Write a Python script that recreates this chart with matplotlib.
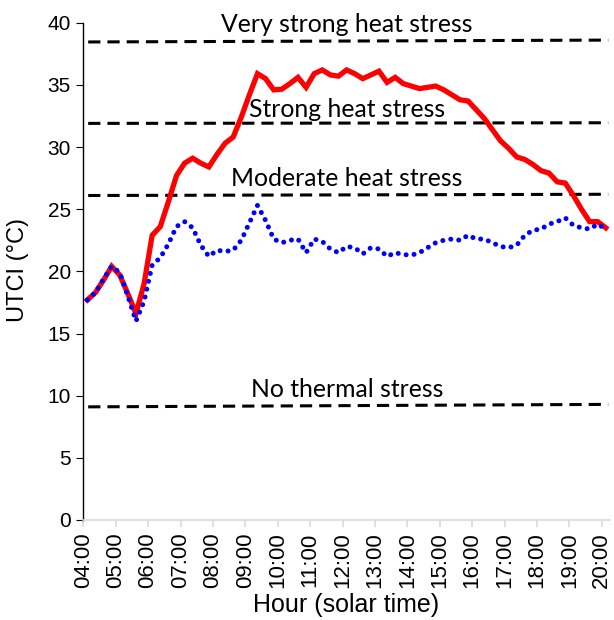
import numpy as np
import matplotlib
matplotlib.use('Agg')
import matplotlib.pyplot as plt

# UTCI, 15-min values (centred in each quarter hour), 04:00 - 20:00
red_utci = [17.7, 18.3, 19.3, 20.4, 19.7, 18.2, 16.6, 19.0, 22.9, 23.6,
            25.6, 27.7, 28.7, 29.1, 28.7, 28.4, 29.4, 30.3, 30.8, 32.4,
            34.2, 35.9, 35.5, 34.6, 34.65, 35.1, 35.6, 34.8, 35.9, 36.2,
            35.8, 35.7, 36.2, 35.9, 35.5, 35.8, 36.1, 35.2, 35.6, 35.1,
            34.9, 34.7, 34.8, 34.9, 34.6, 34.2, 33.8, 33.7, 33.0, 32.3,
            31.4, 30.5, 29.9, 29.2, 29.0, 28.6, 28.1, 27.9, 27.2, 27.1,
            26.1, 25.0, 24.0, 24.0, 23.5]
blue_utci = [17.7, 18.3, 19.4, 20.4, 19.9, 18.0, 16.0, 17.6, 20.5, 21.1,
             22.2, 23.6, 24.0, 23.5, 22.1, 21.2, 21.7, 21.6, 21.7, 22.5,
             23.9, 25.3, 24.1, 22.6, 22.3, 22.5, 22.6, 21.5, 22.6, 22.4,
             21.8, 21.5, 22.0, 21.9, 21.4, 21.9, 21.8, 21.2, 21.5, 21.35,
             21.3, 21.5, 21.9, 22.3, 22.5, 22.6, 22.5, 22.9, 22.6, 22.6,
             22.3, 22.0, 21.9, 22.1, 22.9, 23.3, 23.4, 23.8, 24.0, 24.3,
             23.7, 23.5, 23.4, 23.8, 23.4]
hours = np.arange(4.125, 20.2, 0.25)

# thermal stress thresholds (value at left end, value at right end)
stress_labels = ['Very strong heat stress', 'Strong heat stress',
                 'Moderate heat stress', 'No thermal stress']
stress_left = [38.45, 31.9, 26.1, 9.1]
stress_right = [38.6, 31.95, 26.2, 9.3]
label_y = [39.25, 32.4, 26.9, 9.9]

hour_ticks = list(range(4, 21))
hour_labels = ['%02d:00' % h for h in hour_ticks]

fig = plt.figure(figsize=(6.14, 6.2), dpi=100)
ax = fig.add_axes([0.1357, 0.1613, 0.8575, 0.8021])

for i in range(len(stress_labels)):
    ax.plot([4.15, 20.2], [stress_left[i], stress_right[i]], color='black',
            lw=2.2, dashes=(4, 2.3), zorder=1)
    ax.text(12.14, label_y[i], stress_labels[i], ha='center', va='baseline',
            fontsize=17.8, family='Lato', color='black')

ax.plot(hours, red_utci, color='#ff0000', lw=3.8, zorder=3,
        solid_joinstyle='miter')
ax.plot(hours, blue_utci, color='#0000ff', lw=3.6, zorder=4,
        linestyle=(0, (0.01, 1.6)), dash_capstyle='round')

ax.set_xlim(4, 20.25)
ax.set_ylim(0, 40)
ax.set_yticks(range(0, 41, 5))
ax.set_xticks(hour_ticks)
ax.set_xticklabels(hour_labels, rotation=90, family='Liberation Sans', fontsize=16)
for lab in ax.get_yticklabels():
    lab.set_family('Liberation Sans')
    lab.set_fontsize(15)

ax.spines['top'].set_visible(False)
ax.spines['right'].set_visible(False)
ax.spines['left'].set_color('black')
ax.spines['left'].set_linewidth(1)
ax.spines['bottom'].set_color('#d9d9d9')
ax.spines['bottom'].set_linewidth(1.2)
ax.tick_params(axis='y', direction='out', length=5, color='black', pad=4)
ax.tick_params(axis='x', direction='out', length=5, color='#d9d9d9', width=1.2, pad=4)

fig.text(0.029, 0.565, 'UTCI (°C)', rotation=90, ha='center', va='center',
         family='Liberation Sans', fontsize=17)
fig.text(0.5635, 0.024, 'Hour (solar time)', ha='center', va='center',
         family='Liberation Sans', fontsize=18)

fig.savefig('out.png', dpi=100)
